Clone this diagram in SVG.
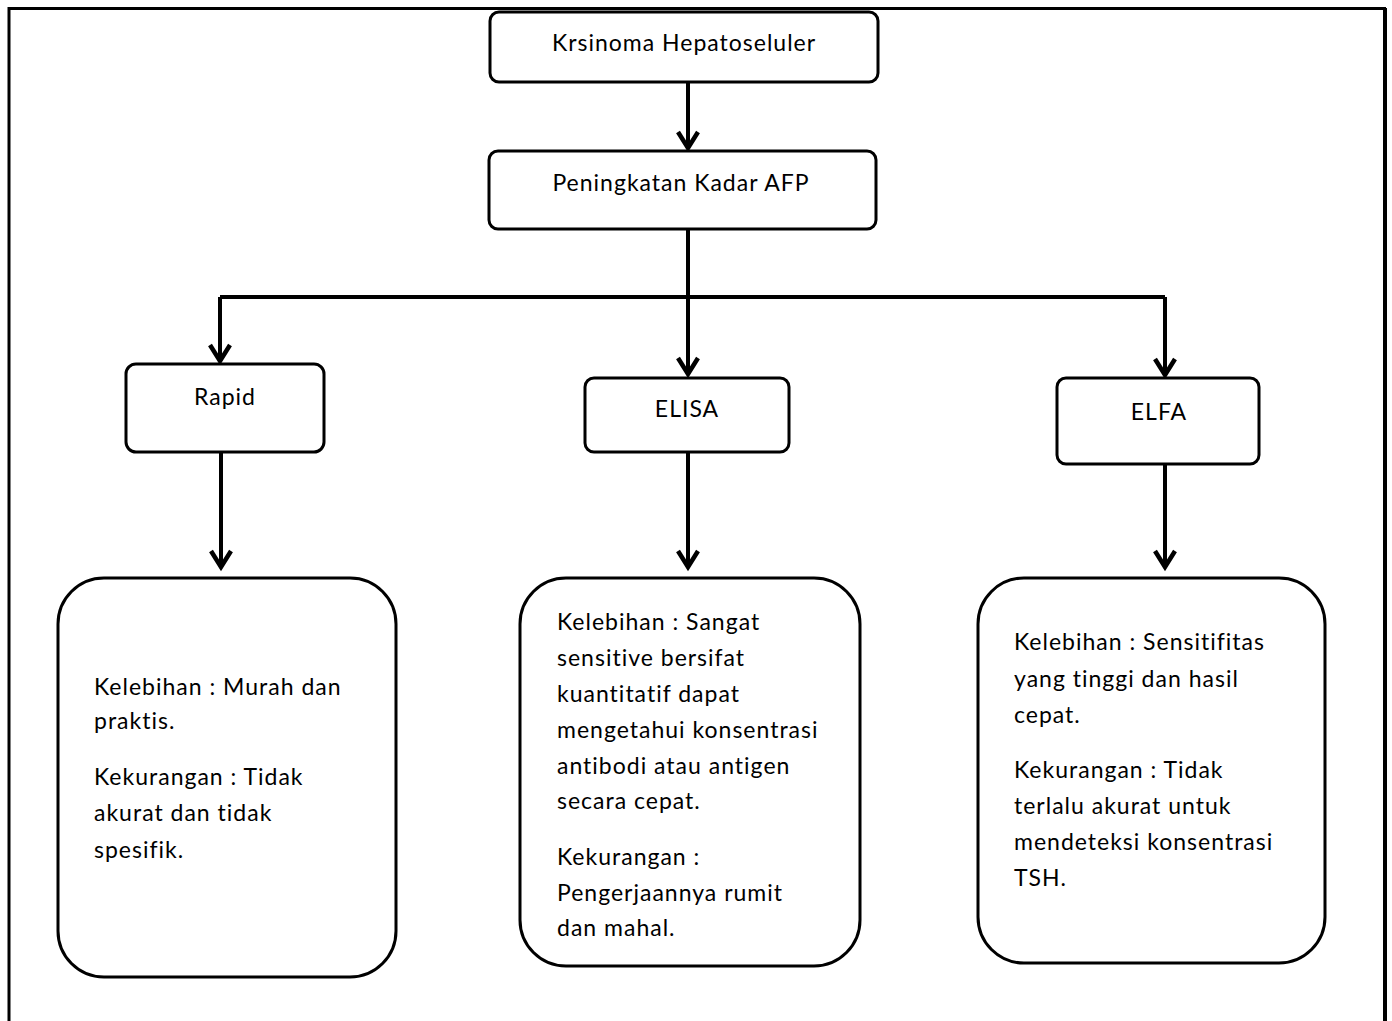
<svg xmlns="http://www.w3.org/2000/svg" width="1392" height="1021" viewBox="0 0 1392 1021">
<style>
.box{fill:#fff;stroke:#000;stroke-width:3}
.ln{fill:none;stroke:#000;stroke-width:4}
.ah{fill:none;stroke:#000;stroke-width:4.5;stroke-linejoin:miter}
text{font-family:Lato,"Open Sans","Liberation Sans",sans-serif;font-size:23px;letter-spacing:1px;fill:#000}
.c{text-anchor:middle}
</style>
<rect width="1392" height="1021" fill="#fff"/>
<g id="frame">
<path d="M9,1021 V8.5 H1386" fill="none" stroke="#000" stroke-width="3"/>
<path d="M1385,8 V1021" fill="none" stroke="#000" stroke-width="4"/>
</g>
<g id="connectors">
<path class="ln" d="M688,82 V148"/>
<path class="ah" d="M678,132 L688,148 L698,132"/>
<path class="ln" d="M688,229 V374"/>
<path class="ln" d="M220,297 H1165"/>
<path class="ln" d="M220,297 V361"/>
<path class="ah" d="M210,345 L220,361 L230,345"/>
<path class="ah" d="M678,358 L688,374 L698,358"/>
<path class="ln" d="M1165,297 V375"/>
<path class="ah" d="M1155,359 L1165,375 L1175,359"/>
<path class="ln" d="M221,452 V567"/>
<path class="ah" d="M211,551 L221,567 L231,551"/>
<path class="ln" d="M688,452 V567"/>
<path class="ah" d="M678,551 L688,567 L698,551"/>
<path class="ln" d="M1165,464 V567"/>
<path class="ah" d="M1155,551 L1165,567 L1175,551"/>
</g>
<g id="n1"><rect class="box" x="490" y="12" width="388" height="70" rx="9"/><text class="c" x="684" y="51">Krsinoma Hepatoseluler</text></g>
<g id="n2"><rect class="box" x="489" y="151" width="387" height="78" rx="9"/><text class="c" x="681" y="191">Peningkatan Kadar AFP</text></g>
<g id="rapid"><rect class="box" x="126" y="364" width="198" height="88" rx="10"/><text class="c" x="225" y="405">Rapid</text></g>
<g id="elisa"><rect class="box" x="585" y="378" width="204" height="74" rx="9"/><text class="c" x="687" y="417">ELISA</text></g>
<g id="elfa"><rect class="box" x="1057" y="378" width="202" height="86" rx="9"/><text class="c" x="1159" y="420">ELFA</text></g>
<g id="rapid-d"><rect class="box" x="58" y="578" width="338" height="399" rx="46"/>
<text x="94" y="695">Kelebihan : Murah dan</text>
<text x="94" y="729">praktis.</text>
<text x="94" y="785">Kekurangan : Tidak</text>
<text x="94" y="821">akurat dan tidak</text>
<text x="94" y="858">spesifik.</text>
</g>
<g id="elisa-d"><rect class="box" x="520" y="578" width="340" height="388" rx="46"/>
<text x="557" y="630">Kelebihan : Sangat</text>
<text x="557" y="666">sensitive bersifat</text>
<text x="557" y="702">kuantitatif dapat</text>
<text x="557" y="738">mengetahui konsentrasi</text>
<text x="557" y="774">antibodi atau antigen</text>
<text x="557" y="809">secara cepat.</text>
<text x="557" y="865">Kekurangan :</text>
<text x="557" y="901">Pengerjaannya rumit</text>
<text x="557" y="936">dan mahal.</text>
</g>
<g id="elfa-d"><rect class="box" x="978" y="578" width="347" height="385" rx="46"/>
<text x="1014" y="650">Kelebihan : Sensitifitas</text>
<text x="1014" y="687">yang tinggi dan hasil</text>
<text x="1014" y="723">cepat.</text>
<text x="1014" y="778">Kekurangan : Tidak</text>
<text x="1014" y="814">terlalu akurat untuk</text>
<text x="1014" y="850">mendeteksi konsentrasi</text>
<text x="1014" y="886">TSH.</text>
</g>
</svg>
